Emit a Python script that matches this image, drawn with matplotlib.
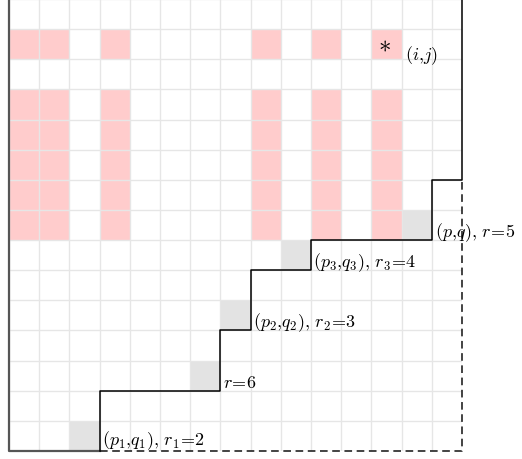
import matplotlib
matplotlib.use("Agg")
import matplotlib.pyplot as plt
from matplotlib.patches import Rectangle

plt.rcParams['mathtext.fontset'] = 'cm'
plt.rcParams['font.family'] = ['DejaVu Serif']

# grid size (columns x rows), rows counted from the bottom
n_cols = 15
n_rows = 15

# highlighted (pink) cells: every pink column in every pink row
pink_rows = [13, 11, 10, 9, 8, 7]
pink_cols = [0, 1, 3, 8, 10, 12]

# grey cells (col, row)
gray_cells = [(2, 0), (6, 2), (7, 4), (9, 6), (13, 7)]

# staircase boundary (solid) and the dashed remainder
stair_x = [3, 3, 7, 7, 8, 8, 10, 10, 14, 14, 15, 15]
stair_y = [0, 2, 2, 4, 4, 6, 6, 7, 7, 9, 9, 15]
dash_x = [3, 15, 15]
dash_y = [0, 0, 9]

# labels (text, x, y)
labels = [
    (r'$(p_1{,}q_1),\, r_1\!=\!2$', 3.08, 0.37),
    (r'$r\!=\!6$', 7.08, 2.29),
    (r'$(p_2{,}q_2),\, r_2\!=\!3$', 8.08, 4.28),
    (r'$(p_3{,}q_3),\, r_3\!=\!4$', 10.08, 6.27),
    (r'$(p{,}q),\, r\!=\!5$', 14.12, 7.27),
    (r'$(i{,}j)$', 13.1, 13.15),
]
star_cell = (12, 13)

fig = plt.figure(figsize=(5.22, 4.60), dpi=100)
ax = fig.add_axes([9 / 522, 8 / 460, 453 / 522, 452 / 460])
ax.set_xlim(0, n_cols)
ax.set_ylim(0, n_rows)
ax.axis('off')

for r in pink_rows:
    for c in pink_cols:
        ax.add_patch(Rectangle((c, r), 1, 1, facecolor='#ffcccc', edgecolor='none', zorder=1))
for c, r in gray_cells:
    ax.add_patch(Rectangle((c, r), 1, 1, facecolor='#e3e3e3', edgecolor='none', zorder=1))

# light grid
for k in range(n_cols + 1):
    ax.plot([k, k], [0, n_rows], color='#e6e6e6', lw=1, zorder=2)
for k in range(n_rows + 1):
    ax.plot([0, n_cols], [k, k], color='#e6e6e6', lw=1, zorder=2)

# outer left / bottom border
ax.plot([0, 0, 3], [n_rows, 0, 0], color='#555555', lw=1.6, zorder=3, clip_on=False)
ax.plot(stair_x, stair_y, color='black', lw=1.1, zorder=3, clip_on=False)
ax.plot(dash_x, dash_y, color='#111111', lw=1.1, ls=(0, (5, 3)), zorder=3, clip_on=False)

for txt, x, y in labels:
    ax.text(x, y, txt, fontsize=13, ha='left', va='center', zorder=4)
ax.text(star_cell[0] + 0.42, star_cell[1] + 0.5, r'$\ast$', fontsize=18,
        ha='center', va='center', zorder=4)

fig.savefig('out.png', dpi=100)
